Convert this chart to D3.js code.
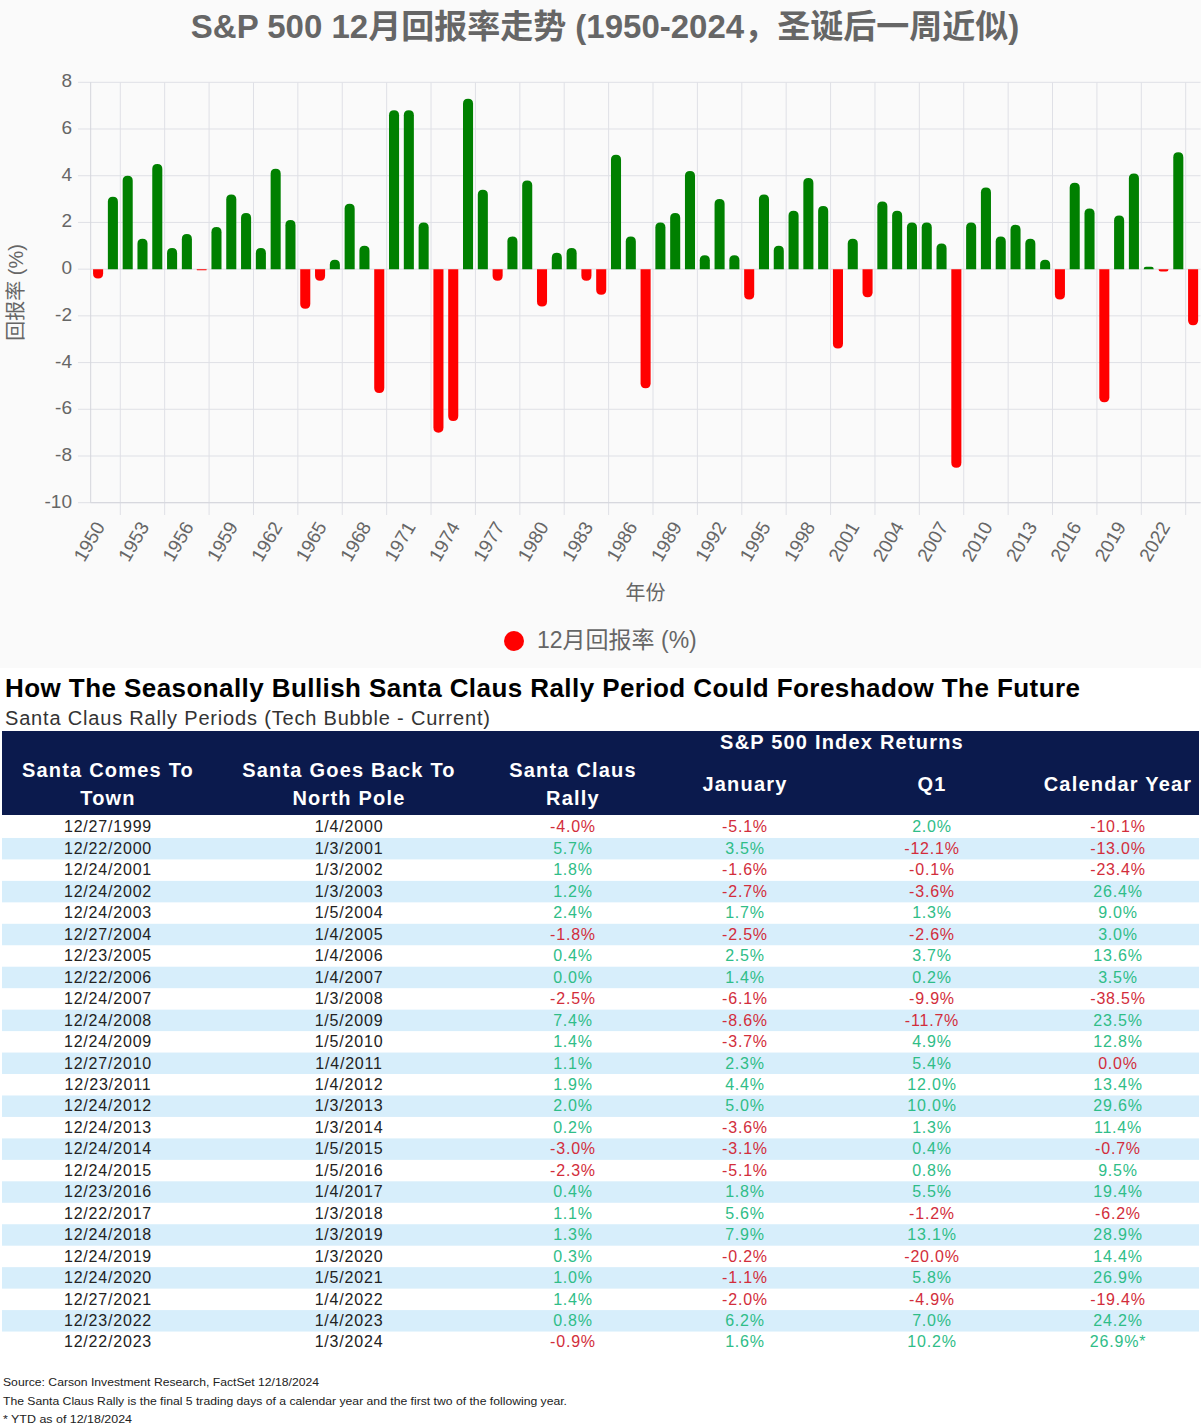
<!DOCTYPE html>
<html>
<head>
<meta charset="utf-8">
<script src="https://cdn.jsdelivr.net/npm/d3@7"></script>
<style>
  body { margin: 0; background: #fff; }
  svg { display: block; font-family: "Liberation Sans", Arial, "Noto Sans CJK SC", sans-serif; }
</style>
</head>
<body>
<div id="chart"></div>
<script>
// December returns (%), 1950-2024
const years = d3.range(1950, 2025);
const decReturns = [
  -0.4, 3.1, 4.0, 1.3, 4.5, 0.9, 1.5, -0.05, 1.8, 3.2,
  2.4, 0.9, 4.3, 2.1, -1.7, -0.5, 0.4, 2.8, 1.0, -5.3,
  6.8, 6.8, 2.0, -7.0, -6.5, 7.3, 3.4, -0.5, 1.4, 3.8,
  -1.6, 0.7, 0.9, -0.5, -1.1, 4.9, 1.4, -5.1, 2.0, 2.4,
  4.2, 0.6, 3.0, 0.6, -1.3, 3.2, 1.0, 2.5, 3.9, 2.7,
  -3.4, 1.3, -1.2, 2.9, 2.5, 2.0, 2.0, 1.1, -8.5, 2.0,
  3.5, 1.4, 1.9, 1.3, 0.4, -1.3, 3.7, 2.6, -5.7, 2.3,
  4.1, 0.1, -0.1, 5.0, -2.4
];
const yTicks = [-10, -8, -6, -4, -2, 0, 2, 4, 6, 8];

// Santa Claus rally table
const startDates = ['12/27/1999','12/22/2000','12/24/2001','12/24/2002','12/24/2003','12/27/2004','12/23/2005','12/22/2006','12/24/2007','12/24/2008','12/24/2009','12/27/2010','12/23/2011','12/24/2012','12/24/2013','12/24/2014','12/24/2015','12/23/2016','12/22/2017','12/24/2018','12/24/2019','12/24/2020','12/27/2021','12/23/2022','12/22/2023'];
const endDates = ['1/4/2000','1/3/2001','1/3/2002','1/3/2003','1/5/2004','1/4/2005','1/4/2006','1/4/2007','1/3/2008','1/5/2009','1/5/2010','1/4/2011','1/4/2012','1/3/2013','1/3/2014','1/5/2015','1/5/2016','1/4/2017','1/3/2018','1/3/2019','1/3/2020','1/5/2021','1/4/2022','1/4/2023','1/3/2024'];
const rally = [-4.0, 5.7, 1.8, 1.2, 2.4, -1.8, 0.4, 0.0, -2.5, 7.4, 1.4, 1.1, 1.9, 2.0, 0.2, -3.0, -2.3, 0.4, 1.1, 1.3, 0.3, 1.0, 1.4, 0.8, -0.9];
const january = [-5.1, 3.5, -1.6, -2.7, 1.7, -2.5, 2.5, 1.4, -6.1, -8.6, -3.7, 2.3, 4.4, 5.0, -3.6, -3.1, -5.1, 1.8, 5.6, 7.9, -0.2, -1.1, -2.0, 6.2, 1.6];
const q1 = [2.0, -12.1, -0.1, -3.6, 1.3, -2.6, 3.7, 0.2, -9.9, -11.7, 4.9, 5.4, 12.0, 10.0, 1.3, 0.4, 0.8, 5.5, -1.2, 13.1, -20.0, 5.8, -4.9, 7.0, 10.2];
const calYear = [-10.1, -13.0, -23.4, 26.4, 9.0, 3.0, 13.6, 3.5, -38.5, 23.5, 12.8, -0.0, 13.4, 29.6, 11.4, -0.7, 9.5, 19.4, -6.2, 28.9, 14.4, 26.9, -19.4, 24.2, 26.9];

const W = 1201, H = 1427;
const svg = d3.select('#chart').append('svg').attr('width', W).attr('height', H);

// ---------- bar chart ----------
svg.append('rect').attr('width', W).attr('height', 668).attr('fill', '#fafafa');

const plot = { left: 90.7, right: 1200.5, top: 82.3, bottom: 502.7 };
const grid = '#dfe0e6';
const grey = '#666';

const x = d3.scaleBand()
  .domain(years)
  .range([plot.left, plot.right])
  .paddingInner(0.32)
  .paddingOuter(0.16);
const step = x.step();
const cx = d => x(d) + x.bandwidth() / 2;

const y = d3.scaleLinear().domain([-10, 8]).range([plot.bottom, plot.top]);

svg.append('text')
  .attr('x', 605).attr('y', 29)
  .attr('text-anchor', 'middle').attr('dominant-baseline', 'middle')
  .attr('font-size', 33).attr('font-weight', 'bold').attr('fill', grey)
  .text('S&P 500 12月回报率走势 (1950-2024，圣诞后一周近似)');

// horizontal grid + y labels
const yAxis = svg.append('g');
yAxis.selectAll('line').data(yTicks).enter().append('line')
  .attr('x1', 78).attr('x2', plot.right)
  .attr('y1', d => y(d)).attr('y2', d => y(d))
  .attr('stroke', grid).attr('stroke-width', 1);
yAxis.selectAll('text').data(yTicks).enter().append('text')
  .attr('x', 72).attr('y', d => y(d))
  .attr('text-anchor', 'end').attr('dominant-baseline', 'middle')
  .attr('font-size', 19).attr('fill', grey)
  .text(d => d);

// vertical grid: offset between shown ticks (every 3rd year)
const shown = years.filter((d, i) => i % 3 === 0);
const vLines = shown.slice(1).map(d => cx(d) - 1.5 * step)
  .concat([cx(shown[shown.length - 1]) + 1.5 * step]);
svg.append('g').selectAll('line').data(vLines).enter().append('line')
  .attr('x1', d => d).attr('x2', d => d)
  .attr('y1', plot.top).attr('y2', 515)
  .attr('stroke', grid).attr('stroke-width', 1);
svg.append('line')
  .attr('x1', plot.left).attr('x2', plot.left)
  .attr('y1', plot.top).attr('y2', plot.bottom)
  .attr('stroke', '#d4d5dc');
svg.append('line')
  .attr('x1', plot.left).attr('x2', plot.right)
  .attr('y1', plot.bottom).attr('y2', plot.bottom)
  .attr('stroke', '#d4d5dc');

// x labels
svg.append('g').selectAll('text').data(shown).enter().append('text')
  .attr('transform', d => `translate(${cx(d) + 3},524) rotate(-60)`)
  .attr('text-anchor', 'end').attr('dominant-baseline', 'middle')
  .attr('font-size', 19).attr('fill', grey)
  .text(d => d);

svg.append('text')
  .attr('x', (plot.left + plot.right) / 2).attr('y', 595)
  .attr('text-anchor', 'middle').attr('dominant-baseline', 'middle')
  .attr('font-size', 20).attr('fill', grey).text('年份');

svg.append('text')
  .attr('transform', `translate(18,${(plot.top + plot.bottom) / 2}) rotate(-90)`)
  .attr('text-anchor', 'middle').attr('dominant-baseline', 'middle')
  .attr('font-size', 20).attr('fill', grey).text('回报率 (%)');

// bars with rounded outer end
function barPath(yr, v) {
  const w = x.bandwidth();
  const x0 = x(yr), x1 = x0 + w;
  const y0 = y(0), y1 = y(v);
  const h = Math.abs(y1 - y0);
  const r = Math.min(w / 2, h);
  if (v >= 0) {
    return `M${x0},${y0}V${y1 + r}Q${x0},${y1} ${x0 + r},${y1}H${x1 - r}Q${x1},${y1} ${x1},${y1 + r}V${y0}Z`;
  }
  return `M${x0},${y0}V${y1 - r}Q${x0},${y1} ${x0 + r},${y1}H${x1 - r}Q${x1},${y1} ${x1},${y1 - r}V${y0}Z`;
}
svg.append('g').selectAll('path')
  .data(years.map((yr, i) => ({ yr, v: decReturns[i] })))
  .enter().append('path')
  .attr('d', d => barPath(d.yr, d.v))
  .attr('fill', d => d.v >= 0 ? '#008000' : '#ff0000');

// legend
svg.append('circle').attr('cx', 514).attr('cy', 641).attr('r', 10).attr('fill', '#ff0000');
svg.append('text')
  .attr('x', 537).attr('y', 642)
  .attr('dominant-baseline', 'middle')
  .attr('font-size', 23).attr('fill', grey).text('12月回报率 (%)');

// ---------- table ----------
svg.append('text')
  .attr('x', 5).attr('y', 697)
  .attr('font-size', 26).attr('font-weight', 'bold').attr('fill', '#000')
  .attr('textLength', 1075).attr('lengthAdjust', 'spacing')
  .text('How The Seasonally Bullish Santa Claus Rally Period Could Foreshadow The Future');
svg.append('text')
  .attr('x', 5).attr('y', 725)
  .attr('font-size', 20).attr('fill', '#333')
  .attr('textLength', 485).attr('lengthAdjust', 'spacing')
  .text('Santa Claus Rally Periods (Tech Bubble - Current)');

const navy = '#0b1a4d';
svg.append('rect').attr('x', 2).attr('y', 731).attr('width', 1197).attr('height', 84).attr('fill', navy);

const colX = [108, 349, 573, 745, 932, 1118];
const headers = [
  { x: colX[0], y: 772, t: 'Santa Comes To' },
  { x: colX[0], y: 800, t: 'Town' },
  { x: colX[1], y: 772, t: 'Santa Goes Back To' },
  { x: colX[1], y: 800, t: 'North Pole' },
  { x: colX[2], y: 772, t: 'Santa Claus' },
  { x: colX[2], y: 800, t: 'Rally' },
  { x: 842, y: 744, t: 'S&P 500 Index Returns' },
  { x: colX[3], y: 786, t: 'January' },
  { x: colX[4], y: 786, t: 'Q1' },
  { x: colX[5], y: 786, t: 'Calendar Year' }
];
svg.append('g').selectAll('text').data(headers).enter().append('text')
  .attr('x', d => d.x).attr('y', d => d.y)
  .attr('text-anchor', 'middle').attr('dominant-baseline', 'middle')
  .attr('font-size', 20).attr('font-weight', 'bold').attr('fill', '#fff')
  .attr('letter-spacing', 1.2)
  .text(d => d.t);

const rowY = d3.scaleBand()
  .domain(d3.range(startDates.length))
  .range([816.5, 816.5 + 21.46 * startDates.length]);

svg.append('g').selectAll('rect')
  .data(d3.range(startDates.length).filter(i => i % 2 === 1))
  .enter().append('rect')
  .attr('x', 2).attr('width', 1197)
  .attr('y', i => rowY(i)).attr('height', rowY.bandwidth())
  .attr('fill', '#d7eefb');

const red = '#d22d3b', green = '#2fbd88';
const pct = v => v.toFixed(1) + '%';
const isNeg = v => v < 0 || Object.is(v, -0);

const rows = startDates.map((s, i) => [
  { t: s, c: '#222' },
  { t: endDates[i], c: '#222' },
  { t: pct(rally[i]), c: isNeg(rally[i]) ? red : green },
  { t: pct(january[i]), c: isNeg(january[i]) ? red : green },
  { t: pct(q1[i]), c: isNeg(q1[i]) ? red : green },
  { t: pct(calYear[i]) + (i === startDates.length - 1 ? '*' : ''), c: isNeg(calYear[i]) ? red : green }
]);

const rowG = svg.append('g').selectAll('g').data(rows).enter().append('g')
  .attr('transform', (d, i) => `translate(0,${rowY(i) + rowY.bandwidth() / 2})`);
rowG.selectAll('text').data(d => d).enter().append('text')
  .attr('x', (d, j) => colX[j])
  .attr('y', 1)
  .attr('text-anchor', 'middle').attr('dominant-baseline', 'middle')
  .attr('font-size', 16).attr('letter-spacing', 0.8)
  .attr('fill', d => d.c)
  .text(d => d.t);

const notes = [
  { y: 1386, t: 'Source: Carson Investment Research, FactSet 12/18/2024', w: 316 },
  { y: 1405, t: 'The Santa Claus Rally is the final 5 trading days of a calendar year and the first two of the following year.', w: 564 },
  { y: 1423, t: '* YTD as of 12/18/2024', w: 129 }
];
svg.append('g').selectAll('text').data(notes).enter().append('text')
  .attr('x', 3).attr('y', d => d.y)
  .attr('font-size', 11).attr('fill', '#222')
  .attr('textLength', d => d.w).attr('lengthAdjust', 'spacingAndGlyphs')
  .text(d => d.t);
</script>
</body>
</html>
